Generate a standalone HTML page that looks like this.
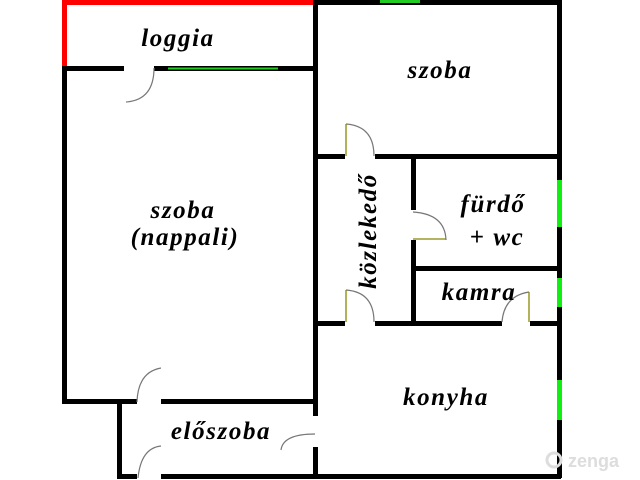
<!DOCTYPE html>
<html><head><meta charset="utf-8"><style>
html,body{margin:0;padding:0;background:#fff;width:640px;height:480px;overflow:hidden}
text{font-family:"Liberation Serif",serif;font-style:italic;font-weight:bold;fill:#000;letter-spacing:1.6px}
</style></head><body>
<svg width="640" height="480" viewBox="0 0 640 480" xmlns="http://www.w3.org/2000/svg">
<g fill="#000">
<rect x="62" y="0" width="254" height="5" fill="#f00"/>
<rect x="62" y="0" width="5" height="71" fill="#f00"/>
<rect x="62" y="66" width="62" height="5"/>
<rect x="154" y="66" width="162" height="5"/>
<rect x="62" y="66" width="5" height="338"/>
<rect x="62" y="399" width="75" height="5"/>
<rect x="161" y="399" width="156" height="5"/>
<rect x="313" y="0" width="5" height="416"/>
<rect x="313" y="447" width="5" height="31"/>
<rect x="313" y="0" width="248" height="5"/>
<rect x="557" y="0" width="5" height="478"/>
<rect x="313" y="154" width="32" height="5"/>
<rect x="375" y="154" width="187" height="5"/>
<rect x="411" y="154" width="5" height="56"/>
<rect x="411" y="240" width="5" height="86"/>
<rect x="411" y="266" width="150" height="5"/>
<rect x="313" y="321" width="32" height="5"/>
<rect x="375" y="321" width="127" height="5"/>
<rect x="530" y="321" width="31" height="5"/>
<rect x="117" y="399" width="5" height="79"/>
<rect x="117" y="474" width="20" height="5"/>
<rect x="161" y="474" width="400" height="5"/>
</g>
<line x1="168" y1="68.5" x2="278" y2="68.5" stroke="#2c2" stroke-width="2"/>
<rect x="380" y="0" width="40" height="3" fill="#2c2"/>
<rect x="557" y="180" width="5" height="47" fill="#1e1"/>
<rect x="557" y="278" width="5" height="29" fill="#1e1"/>
<rect x="557" y="380" width="5" height="40" fill="#1e1"/>
<g fill="none" stroke="#777" stroke-width="1.2">
<path d="M154 68 Q154 100 126 102"/>
<path d="M346 124 Q374 126 374 156"/>
<path d="M346 290 Q374 292 374 322"/>
<path d="M413 212 Q445 214 446 240"/>
<path d="M529 292 Q504 296 502 322"/>
<path d="M161 368 Q138 372 137 402"/>
<path d="M315 434 Q283 434 281 450"/>
<path d="M161 446 Q141 448 138 478"/>
</g>
<g stroke="#880" stroke-width="1.3">
<line x1="346" y1="124" x2="346" y2="156"/>
<line x1="346" y1="290" x2="346" y2="322"/>
<line x1="413" y1="239" x2="446" y2="239"/>
<line x1="529" y1="292" x2="529" y2="322"/>
</g>
<text x="178" y="46" font-size="25" text-anchor="middle">loggia</text>
<text x="440" y="78" font-size="25" text-anchor="middle">szoba</text>
<text x="183" y="218" font-size="25" text-anchor="middle">szoba</text>
<text x="185" y="245" font-size="25" text-anchor="middle">(nappali)</text>
<text x="0" y="0" font-size="25" text-anchor="middle" transform="translate(376,231) rotate(-90)">közlekedő</text>
<text x="493" y="212" font-size="25" text-anchor="middle">fürdő</text>
<text x="497" y="245" font-size="25" text-anchor="middle">+ wc</text>
<text x="479" y="300" font-size="25" text-anchor="middle">kamra</text>
<text x="446" y="405" font-size="25" text-anchor="middle">konyha</text>
<text x="221" y="439" font-size="25" text-anchor="middle">előszoba</text>
<circle cx="554" cy="460" r="7" fill="none" stroke="#ddd" stroke-width="3"/>
<text x="568" y="467" font-size="18" style="font-family:'Liberation Sans',sans-serif;font-style:normal;fill:#ddd;letter-spacing:0">zenga</text>
</svg>
</body></html>
